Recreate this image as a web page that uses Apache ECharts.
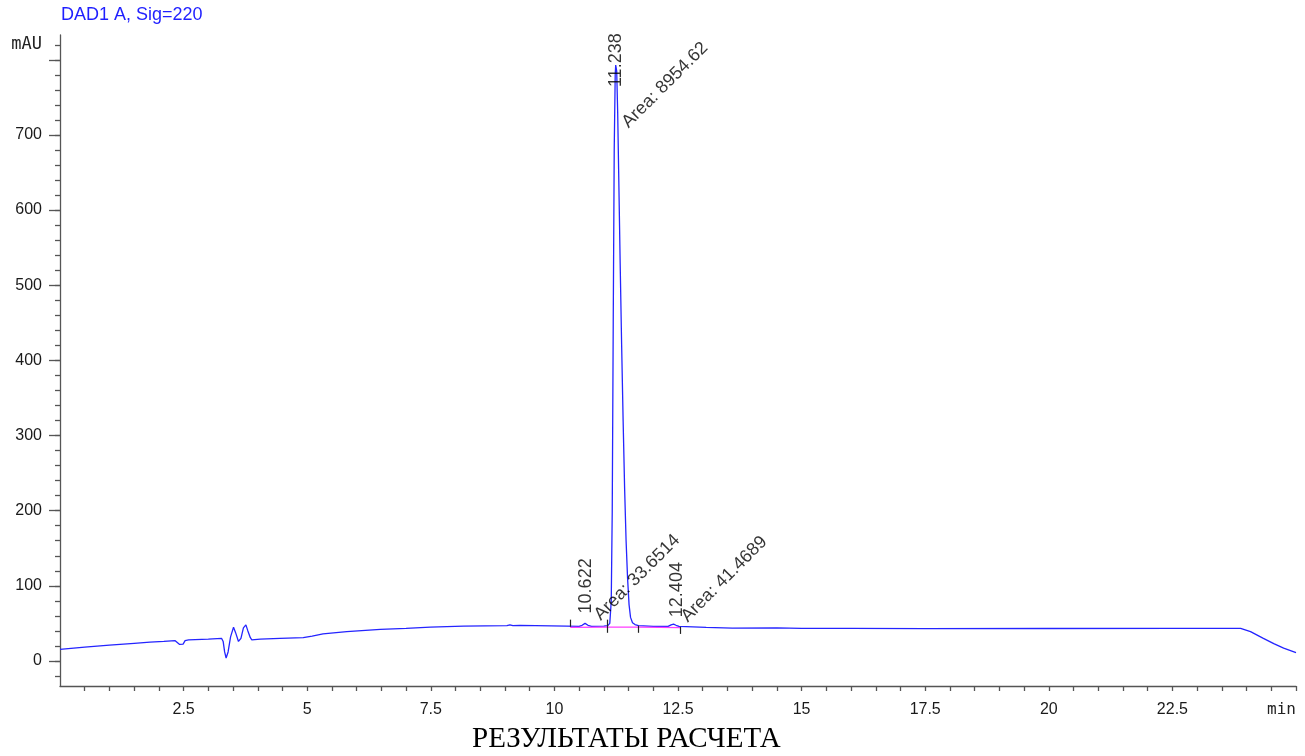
<!DOCTYPE html>
<html>
<head>
<meta charset="utf-8">
<script src="https://cdn.jsdelivr.net/npm/echarts@6/dist/echarts.min.js"></script>
<style>html,body{margin:0;padding:0;background:#fff;}#c{width:1305px;height:756px;}</style>
</head>
<body>
<div id="c"></div>
<script>
// ---- Chromatogram trace (min, mAU) ----
const traceTimes = [
  0.00, 0.50, 1.00, 1.50, 1.82, 2.10, 2.33, 2.37, 2.42, 2.45, 2.49, 2.53, 2.60, 3.00, 3.27,
  3.30, 3.33, 3.36, 3.40, 3.45, 3.51, 3.55, 3.61, 3.66, 3.71, 3.76, 3.80, 3.85, 3.88, 4.05,
  4.45, 4.92, 5.10, 5.32, 5.80, 6.48, 7.00, 7.49, 8.16, 9.04, 9.10, 9.16, 9.30, 10.25, 10.50,
  10.56, 10.62, 10.68, 10.75, 11.00, 11.08, 11.12, 11.15, 11.17, 11.19, 11.21, 11.23, 11.24, 11.26,
  11.28, 11.30, 11.33, 11.36, 11.39, 11.42, 11.45, 11.48, 11.51, 11.54, 11.58, 11.63, 11.70, 12.00,
  12.30, 12.36, 12.41, 12.46, 12.52, 12.80, 13.07, 13.60, 14.50, 15.00, 16.00, 17.50, 20.00, 22.50,
  23.88, 24.08, 24.34, 24.55, 24.75, 25.00
];
const traceValues = [
  15.5, 18.5, 21, 23.5, 25, 26, 27, 26, 22, 21, 22.5, 27, 28, 29, 30,
  26, 12, 4, 12, 32, 45, 38, 26, 30, 44, 48, 40, 31, 28, 29,
  30, 31, 33, 36, 39, 42, 43.5, 45, 46.5, 47, 48, 47, 47.5, 46.5, 46,
  47.5, 50, 47.5, 46, 46.5, 47, 50, 80, 200, 450, 680, 780, 793, 785,
  730, 650, 530, 420, 320, 230, 160, 110, 75, 58, 51, 48.5, 47, 46,
  46, 48, 49, 47.5, 46, 45.5, 44.8, 43.8, 44, 43.5, 43.5, 43, 43.2, 43.5,
  43.5, 39, 30, 23, 17, 11
];

// ---- Integration baseline (magenta) ----
const baseTimes = [10.32, 11.07, 11.70, 12.55];
const baseValues = [44.8, 45.0, 45.0, 44.5];
// integration event marks: time, low, high
const eventTimes = [10.32, 11.07, 11.70, 12.55];
const eventLow = [45.5, 37.5, 37.5, 36];
const eventHigh = [55, 55, 47, 45.5];

// ---- Peaks ----
const peakTimes = [10.622, 11.238, 12.404];
const peakHeights = [50, 793, 49];
const peakAreas = ['33.6514', '8954.62', '41.4689'];

// ---- Axis ticks / labels ----
const xLabelValues = [2.5, 5, 7.5, 10, 12.5, 15, 17.5, 20, 22.5, 25];
const yLabelValues = [0, 100, 200, 300, 400, 500, 600, 700, 820];
const yMajorTicks = [0, 100, 200, 300, 400, 500, 600, 700, 800];
const xTicks = []; for (let i = 1; i <= 50; i++) xTicks.push(i * 0.5);
const yMinorTicks = []; for (let v = -20; v <= 820; v += 20) yMinorTicks.push(v);

// label placement (screen px relative to apex) — styles
const rtLabelPos = [[0.5, -10], [0.6, 22], [4, -7]];
const areaLabelPos = [[12, -6], [9.5, 60], [11, -5]];

const chart = echarts.init(document.getElementById('c'), null, {renderer: 'canvas'});
const FONT = 'Liberation Sans, Arial, sans-serif';
const Y_MIN = -33.3, Y_MAX = 833;

function labelSeries(name, texts, pos, rot) {
  return {
    name: name, type: 'scatter', symbol: 'rect', symbolSize: 1, silent: true, z: 5,
    itemStyle: {color: 'rgba(0,0,0,0)'},
    data: peakTimes.map((t, i) => ({
      value: [t, peakHeights[i]],
      label: {position: [pos[i][0] + 0.5, pos[i][1] + 0.5]}
    })),
    label: {
      show: true, rotate: rot, align: 'left', verticalAlign: 'middle',
      formatter: p => texts[p.dataIndex],
      fontFamily: FONT, fontSize: 18, color: '#000'
    },
    emphasis: {disabled: true}
  };
}

const option = {
  animation: false,
  title: [
    {text: 'DAD1 A, Sig=220', left: 56, top: 1,
     textStyle: {color: '#1f1fff', fontSize: 18, fontWeight: 'normal', fontFamily: FONT}},
    {text: 'РЕЗУЛЬТАТЫ РАСЧЕТА', left: 467, top: 720,
     textStyle: {color: '#000', fontSize: 29, fontWeight: 'normal', fontFamily: 'Liberation Serif, Times New Roman, serif'}}
  ],
  grid: {left: 60, right: 9, top: 35, bottom: 70, containLabel: false},
  xAxis: {
    type: 'value', min: 0, max: 25,
    axisLine: {show: true, onZero: false, lineStyle: {color: '#555', width: 1.3}},
    axisTick: {show: true, length: 5, customValues: xTicks, lineStyle: {color: '#555', width: 1.3}},
    axisLabel: {
      show: true, customValues: xLabelValues, margin: 16, alignMaxLabel: 'right',
      formatter: v => (v === 25 ? '{u|min}' : String(v)),
      fontFamily: FONT, fontSize: 16, color: '#1a1a1a',
      rich: {u: {fontFamily: 'DejaVu Sans Mono, monospace', fontSize: 16, color: '#222'}}
    },
    splitLine: {show: false}
  },
  yAxis: [
    {
      type: 'value', min: Y_MIN, max: Y_MAX, position: 'left',
      axisLine: {show: true, onZero: false, lineStyle: {color: '#555', width: 1.3}},
      axisTick: {show: true, length: 11, customValues: yMajorTicks, lineStyle: {color: '#555', width: 1.3}},
      axisLabel: {
        show: true, customValues: yLabelValues, margin: 18,
        formatter: v => (v === 820 ? '{u|mAU}' : String(v)),
        fontFamily: FONT, fontSize: 16, color: '#1a1a1a',
        rich: {u: {fontFamily: 'DejaVu Sans Mono, monospace', fontSize: 17, color: '#222'}}
      },
      splitLine: {show: false}
    },
    {
      type: 'value', min: Y_MIN, max: Y_MAX, position: 'left',
      axisLine: {show: false},
      axisTick: {show: true, length: 5, customValues: yMinorTicks, lineStyle: {color: '#555', width: 1.3}},
      axisLabel: {show: false},
      splitLine: {show: false}
    }
  ],
  series: [
    {
      name: 'DAD1 A', type: 'line', symbol: 'none', smooth: false, silent: true, z: 3,
      lineStyle: {color: '#2424ff', width: 1.3},
      data: traceTimes.map((t, i) => [t, traceValues[i]])
    },
    {
      name: 'baseline', type: 'line', symbol: 'none', silent: true, z: 4,
      lineStyle: {color: '#ff3cff', width: 1.3},
      data: baseTimes.map((t, i) => [t, baseValues[i]]),
      markLine: {
        silent: true, symbol: 'none', label: {show: false},
        lineStyle: {color: '#222', width: 1.2, type: 'solid'},
        data: eventTimes.map((t, i) => [{coord: [t, eventLow[i]]}, {coord: [t, eventHigh[i]]}])
      }
    },
    labelSeries('rt', peakTimes.map(t => t.toFixed(3)), rtLabelPos, 90),
    labelSeries('area', peakAreas.map(a => 'Area: ' + a), areaLabelPos, 45)
  ]
};
chart.setOption(option);
</script>
</body>
</html>
